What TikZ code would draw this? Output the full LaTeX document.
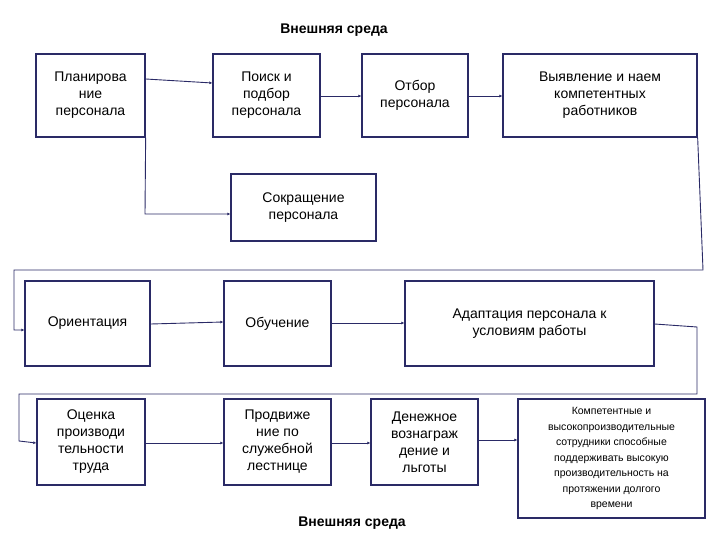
\documentclass[tikz,border=0pt]{standalone}
\usepackage{fontspec}
\setmainfont{Liberation Sans}
\usetikzlibrary{arrows.meta}
\definecolor{nv}{HTML}{2A2A66}
\begin{document}
\begin{tikzpicture}[x=1pt,y=-1pt,
 bx/.style={draw=nv,line width=1.3pt,align=center,inner sep=0pt,font=\fontsize{14}{17}\selectfont},
 ar/.style={draw=nv,line width=0.9pt,-{Latex[length=3pt,width=3pt]}}]
\useasboundingbox (0,0) rectangle (720,540);
\newcommand\bxat[6]{\node[bx,minimum width=#3-#1,minimum height=#4-#2] (#5) at ({(#1+#3)/2},{(#2+#4)/2}) {#6};}
\bxat{36}{54}{145}{137}{plan}{Планирова\\ние\\персонала}
\bxat{213}{54}{320}{137}{poisk}{Поиск и\\подбор\\персонала}
\bxat{362}{54}{468}{137}{otbor}{Отбор\\персонала}
\bxat{503}{54}{697}{137}{vyyav}{Выявление и наем\\компетентных\\работников}
\bxat{231}{174}{376}{241}{sokr}{Сокращение\\персонала}
\bxat{25}{281}{150}{366}{orient}{Ориентация}
\bxat{224}{281}{331}{366}{obuch}{Обучение}
\bxat{405}{281}{654}{366}{adapt}{Адаптация персонала к\\условиям работы}
\bxat{37}{399}{145}{485}{ocen}{Оценка\\производи\\тельности\\труда}
\bxat{224}{399}{331}{485}{prodv}{Продвиже\\ние по\\служебной\\лестнице}
\bxat{371}{399}{478}{485}{den}{Денежное\\вознаграж\\дение и\\льготы}
\node[bx,minimum width=187,minimum height=119,font=\fontsize{10.5}{15.5}\selectfont] (komp) at (611.5,458.5) {Компетентные и\\высокопроизводительные\\сотрудники способные\\поддерживать высокую\\производительность на\\протяжении долгого\\времени};
\node[font=\bfseries\fontsize{14}{17}\selectfont] (t1) at (334,30) {Внешняя среда};
\node[font=\bfseries\fontsize{14}{17}\selectfont] (t2) at (352,523) {Внешняя среда};
\draw[ar] (plan.east|-0,79) -- (poisk.west|-0,83);
\draw[ar] (poisk.east|-0,96) -- (otbor.west|-0,96);
\draw[ar] (otbor.east|-0,96) -- (vyyav.west|-0,96);
\draw[ar] (plan.south east) -- (145,214) -- (sokr.west|-0,214);
\draw[ar] (vyyav.south east) -- (703,270) -- (14,270) -- (14,330) -- (orient.west|-0,330);
\draw[ar] (orient.east|-0,324) -- (obuch.west|-0,322);
\draw[ar] (obuch.east|-0,323) -- (adapt.west|-0,323);
\draw[ar] (adapt.east|-0,324) -- (697,327) -- (697,394) -- (19,394) -- (19,441) -- (ocen.west|-0,443);
\draw[ar] (ocen.east|-0,443) -- (prodv.west|-0,443);
\draw[ar] (prodv.east|-0,443) -- (den.west|-0,443);
\draw[ar] (den.east|-0,440) -- (komp.west|-0,440);
\end{tikzpicture}
\end{document}
